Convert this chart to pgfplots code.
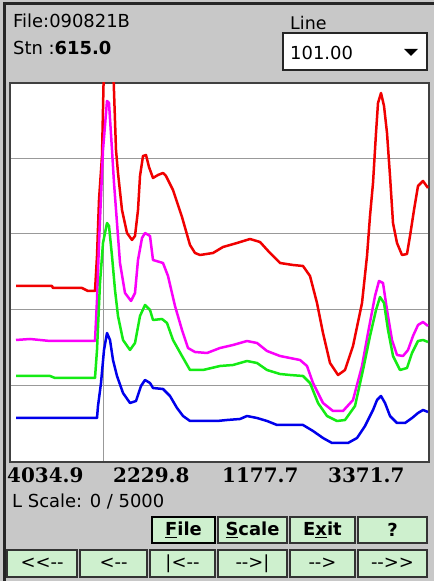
\documentclass[border=0pt]{standalone}
\usepackage{fontspec}
\usepackage{pgfplots}
\pgfplotsset{compat=1.18}
\setmainfont{DejaVu Sans}[Ligatures=NoCommon]
\newfontfamily\uiserif{DejaVu Serif}
\definecolor{bg}{RGB}{200,200,200}
\definecolor{btn}{RGB}{206,240,206}
\definecolor{cred}{RGB}{240,0,0}
\definecolor{cmag}{RGB}{250,0,250}
\definecolor{cgreen}{RGB}{20,235,20}
\definecolor{cblue}{RGB}{0,0,235}
\begin{document}
\begin{tikzpicture}[x=1bp,y=1bp]
\fill[bg] (0,0) rectangle (434,581);
\useasboundingbox (0,0) rectangle (434,581);
\draw[black!85, line width=2.5bp] (4.5,0) -- (4.5,577.5) -- (434,577.5);
% header texts
\node[anchor=base west, inner sep=0] at (13,553) {\fontsize{18}{20}\selectfont File:090821B};
\node[anchor=base west, inner sep=0] at (13,526) {\fontsize{18}{20}\selectfont Stn :\textbf{615.0}};
\node[anchor=base west, inner sep=0] at (290,551) {\fontsize{17.5}{20}\selectfont Line};
\draw[fill=white, draw=black!85, line width=1.5bp] (283,511) rectangle (427,548);
\node[anchor=base west, inner sep=0] at (290,521) {\fontsize{18}{20}\selectfont 101.00};
\fill[black] (404,532) -- (418,532) -- (411,525) -- cycle;
% chart
\begin{axis}[
  at={(10bp,119bp)}, anchor=south west,
  scale only axis, width=419bp, height=379bp,
  xmin=10, xmax=429, ymin=0, ymax=379,
  xtick={103}, ytick={76,152,228,303},
  xticklabels={}, yticklabels={},
  major tick length=0pt,
  xmajorgrids, ymajorgrids,
  grid style={black!40, line width=1bp},
  axis line style={black!75, line width=2bp},
  axis background/.style={fill=white},
  every axis plot/.append style={line width=2.5bp, line join=round},
]
\addplot[cred] coordinates {
(16,176) (52,176) (53,174) (82,174) (88,171) (95,171) (97,206) (99,262) (102,306) (104,400) (113,400) (116,312) (118,289) (122,252) (127,229) (132,222) (135,226) (138,252) (140,286) (143,306) (146,307) (149,295) (153,284) (158,287) (163,289) (166,286) (173,272) (182,245) (190,217) (195,209) (200,207) (213,209) (223,215) (237,219) (250,223) (260,220) (270,209) (280,199) (293,197) (303,196) (310,186) (317,159) (323,129) (330,99) (338,87) (345,92) (353,116) (362,159) (367,206) (370,246) (373,279) (376,329) (378,359) (381,369) (384,356) (387,329) (390,286) (393,239) (397,219) (402,207) (407,208) (410,226) (414,252) (418,276) (423,281) (428,274)
};
\addplot[cmag] coordinates {
(16,122) (30,123) (50,121) (70,121) (95,121) (97,162) (99,219) (103,312) (107,361) (109,359) (112,312) (114,279) (117,239) (120,199) (125,169) (131,161) (135,169) (138,202) (142,224) (145,229) (150,226) (153,202) (163,199) (168,186) (175,156) (182,132) (188,114) (195,110) (207,109) (220,114) (233,117) (247,121) (257,119) (267,111) (280,106) (290,104) (300,102) (307,96) (313,79) (323,59) (333,51) (343,51) (353,62) (362,96) (368,129) (375,166) (379,181) (383,179) (387,152) (392,122) (397,107) (403,106) (408,112) (413,126) (418,137) (423,140) (428,136)
};
\addplot[cgreen] coordinates {
(16,86) (50,86) (55,84) (95,84) (97,112) (100,179) (103,219) (107,239) (109,236) (112,206) (115,172) (118,146) (123,122) (130,112) (135,119) (140,146) (145,157) (150,152) (153,142) (162,143) (167,139) (173,122) (182,106) (190,92) (203,92) (220,96) (233,97) (247,101) (257,99) (267,92) (280,88) (290,87) (303,86) (310,79) (318,59) (327,46) (337,41) (345,42) (355,56) (363,92) (370,126) (376,152) (380,165) (384,159) (388,132) (393,106) (400,92) (407,94) (412,109) (418,121) (423,122) (428,120)
};
\addplot[cblue] coordinates {
(16,44) (97,44) (98,56) (101,79) (104,112) (107,129) (110,122) (113,102) (117,86) (123,69) (130,59) (136,61) (141,76) (145,82) (150,79) (153,74) (163,73) (170,66) (177,54) (183,46) (190,41) (217,41) (227,42) (240,43) (247,46) (257,44) (267,41) (277,37) (290,37) (303,37) (313,31) (323,24) (332,19) (348,19) (357,24) (365,36) (373,52) (377,62) (381,66) (385,59) (390,46) (397,39) (405,39) (412,44) (418,49) (423,52) (428,50)
};
\end{axis}
% bottom labels
\foreach \xx/\tt in {7/4034.9, 113/2229.8, 222/1177.7, 328/3371.7}
  \node[anchor=base west, inner sep=0] at (\xx,98) {\fontsize{20}{22}\selectfont\uiserif\bfseries \tt};
\node[anchor=base west, inner sep=0] at (12,73) {\fontsize{18}{20}\selectfont L Scale: 0 / 5000};
% buttons top row
\draw[fill=btn, draw=black, line width=2bp] (152,38) rectangle (215,64);
\node at (183.5,51) {\fontsize{18}{20}\selectfont\bfseries \underline{F}ile};
\draw[fill=btn, draw=black!80, line width=1.2bp] (218,38) rectangle (287,64);
\node at (252.5,51) {\fontsize{18}{20}\selectfont\bfseries \underline{S}cale};
\draw[fill=btn, draw=black!80, line width=1.2bp] (290,38) rectangle (355,64);
\node at (322.5,51) {\fontsize{18}{20}\selectfont\bfseries E\underline{x}it};
\draw[fill=btn, draw=black!80, line width=1.2bp] (358,38) rectangle (427,64);
\node at (392.5,51) {\fontsize{18}{20}\selectfont\bfseries ?};
% buttons bottom row
\foreach \xa/\xb/\lab in {7/77/{<{}<{}-{}-}, 80/147/{<{}-{}-}, 150/215/{|<{}-{}-}, 218/287/{-{}-{}>|}, 290/355/{-{}-{}>}, 358/427/{-{}-{}>{}>}}{
  \draw[fill=btn, draw=black!80, line width=1.2bp] (\xa,4) rectangle (\xb,31);
  \node at ({(\xa+\xb)/2},17.5) {\fontsize{18}{20}\selectfont \lab};
}
\end{tikzpicture}
\end{document}
